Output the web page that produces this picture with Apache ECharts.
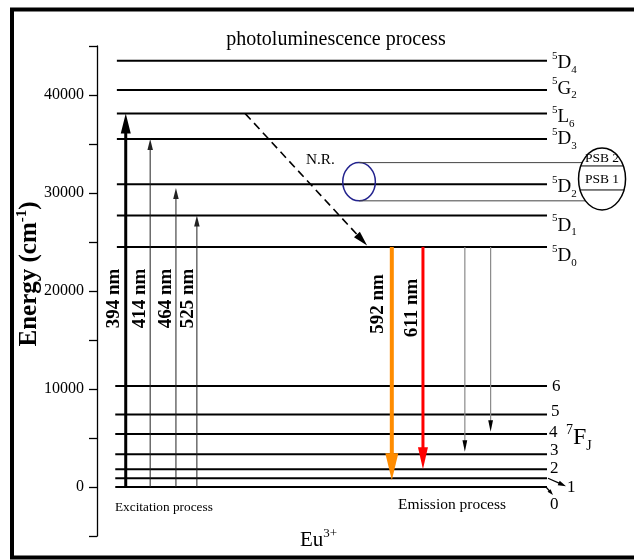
<!DOCTYPE html>
<html>
<head>
<meta charset="utf-8">
<script src="https://cdn.jsdelivr.net/npm/echarts@6/dist/echarts.min.js"></script>
<style>
  html, body { margin: 0; padding: 0; background: #fff; }
  #chart { width: 634px; height: 560px; }
</style>
</head>
<body>
<div id="chart"></div>
<script>
// Eu3+ energy levels, cm^-1
const upperTerms = ['D', 'G', 'L', 'D', 'D', 'D', 'D'];
const upperJ = ['4', '2', '6', '3', '2', '1', '0'];
const upperEnergy = [43500, 40500, 38100, 35500, 30900, 27700, 24500];

const groundJ = ['6', '5', '4', '3', '2', '1', '0'];
const groundEnergy = [10300, 7400, 5400, 3350, 1800, 900, 0];

// excitation out of 7F0
const excLabels = ['394 nm', '414 nm', '464 nm', '525 nm'];
const excTop = [38100, 35500, 30500, 27700];

// emission out of 5D0
const emLabels = ['592 nm', '611 nm'];
const emEnd = [700, 1800];
const weakEmEnd = [3600, 5650];

// non-radiative relaxation 5L6 -> 5D0
const nrEnergy = [38100, 24650];

// phonon side bands around 5D2
const psbBand = [29200, 33100];
const psbEllipse = [28270, 34590];
const psbDividers = [30310, 32760];
const psbLabels = ['PSB 2', 'PSB 1'];

const yTickLabels = [0, 10000, 20000, 30000, 40000];

// ---- layout (hidden x axis runs 0..100 across the plot) ----
const FONT = '"Liberation Serif", "Times New Roman", serif';
const layout = {
  upperStart: 3.7, lowerStart: 3.4, levelEnd: 83.8,
  upperLabelDy: [2.5, -1.5, 3, 0, 3, 10, 9],
  groundLabelPos: [[5, 0], [4, -3], [2, -2], [3, -4], [3, -1], [20, 9], [3, 18]],
  excX: [5.35, 9.9, 14.7, 18.6],
  excLabelDx: [-12, -10, -9.5, -9.2],
  excLabelE: 19230,
  emX: [54.9, 60.7],
  emLabelDx: [-14, -10.5],
  emLabelE: [18670, 18270],
  weakX: [68.5, 73.3],
  nrX: [27.6, 50.3],
  circleX: 48.8, circleRx: 16.3,
  ellipseX: 94.05, ellipseRx: 23.5
};

const emColors = ['#ff8c00', '#ff0000'];

function arrow(p0, p1, o) {
  const dx = p1[0] - p0[0], dy = p1[1] - p0[1];
  const len = Math.hypot(dx, dy);
  const ux = dx / len, uy = dy / len;
  const bx = p1[0] - ux * o.head, by = p1[1] - uy * o.head;
  const nx = -uy, ny = ux, hw = o.headW / 2;
  return {
    type: 'group',
    children: [
      { type: 'line', shape: { x1: p0[0], y1: p0[1], x2: bx + ux, y2: by + uy },
        style: { stroke: o.color, lineWidth: o.width, lineDash: o.dash || null } },
      { type: 'polygon', shape: { points: [[p1[0], p1[1]], [bx + nx * hw, by + ny * hw], [bx - nx * hw, by - ny * hw]] },
        style: { fill: o.headColor || o.color } }
    ]
  };
}

const termRich = {
  s: { fontSize: 11, fontFamily: FONT, fill: '#000', verticalAlign: 'top', lineHeight: 12 },
  m: { fontSize: 19, fontFamily: FONT, fill: '#000', lineHeight: 25 },
  b: { fontSize: 11, fontFamily: FONT, fill: '#000', verticalAlign: 'bottom', lineHeight: 12 }
};

const series = [];

// excited 5D / 5G / 5L manifold
series.push({
  type: 'custom', coordinateSystem: 'cartesian2d', silent: true, z: 2,
  data: upperEnergy.map((e, i) => [i, e]),
  renderItem(params, api) {
    const i = params.dataIndex, e = api.value(1);
    const a = api.coord([layout.upperStart, e]), b = api.coord([layout.levelEnd, e]);
    return { type: 'group', children: [
      { type: 'line', shape: { x1: a[0], y1: a[1], x2: b[0], y2: b[1] }, style: { stroke: '#000', lineWidth: 2 } },
      { type: 'text', x: b[0] + 5, y: b[1] + layout.upperLabelDy[i],
        style: { text: '{s|5}{m|' + upperTerms[i] + '}{b|' + upperJ[i] + '}', align: 'left', verticalAlign: 'middle', rich: termRich } }
    ] };
  }
});

// 7F_J ground multiplet
series.push({
  type: 'custom', coordinateSystem: 'cartesian2d', silent: true, z: 2,
  data: groundEnergy.map((e, i) => [i, e]),
  renderItem(params, api) {
    const i = params.dataIndex, e = api.value(1);
    const a = api.coord([layout.lowerStart, e]), b = api.coord([layout.levelEnd, e]);
    const pos = layout.groundLabelPos[i];
    const kids = [
      { type: 'line', shape: { x1: a[0], y1: a[1], x2: b[0], y2: b[1] }, style: { stroke: '#000', lineWidth: 2 } },
      { type: 'text', x: b[0] + pos[0], y: b[1] + pos[1],
        style: { text: groundJ[i], fontSize: 17, fontFamily: FONT, fill: '#000', align: 'left', verticalAlign: 'middle' } }
    ];
    if (groundJ[i] === '1') {
      kids.push(arrow([b[0] + 1, b[1]], [b[0] + 19, b[1] + 8], { color: '#000', width: 1.2, head: 8, headW: 5 }));
    }
    if (groundJ[i] === '0') {
      kids.push(arrow([b[0] - 1, b[1]], [b[0] + 6, b[1] + 8], { color: '#000', width: 1.2, head: 6, headW: 4 }));
    }
    if (groundJ[i] === '4') {
      kids.push({ type: 'text', x: b[0] + 19, y: b[1] + 4,
        style: { text: '{s|7}{m|F}{b|J}', align: 'left', verticalAlign: 'middle', rich: {
          s: { fontSize: 14, fontFamily: FONT, fill: '#000', verticalAlign: 'top', lineHeight: 14 },
          m: { fontSize: 24, fontFamily: FONT, fill: '#000', lineHeight: 30 },
          b: { fontSize: 14, fontFamily: FONT, fill: '#000', verticalAlign: 'bottom', lineHeight: 14 }
        } } });
    }
    return { type: 'group', children: kids };
  }
});

// phonon side band markers
series.push({
  type: 'custom', coordinateSystem: 'cartesian2d', silent: true, z: 3,
  data: [[0, psbBand[0]]],
  renderItem(params, api) {
    const lo = api.coord([layout.circleX, psbBand[0]]);
    const hi = api.coord([layout.circleX, psbBand[1]]);
    const eTop = api.coord([layout.ellipseX, psbEllipse[1]]);
    const eBot = api.coord([layout.ellipseX, psbEllipse[0]]);
    const ecx = eTop[0], ecy = (eTop[1] + eBot[1]) / 2, ery = (eBot[1] - eTop[1]) / 2, erx = layout.ellipseRx;
    const edgeX = (y, side) => ecx + side * erx * Math.sqrt(Math.max(0, 1 - Math.pow((y - ecy) / ery, 2)));
    const kids = [
      { type: 'ellipse', shape: { cx: lo[0], cy: (lo[1] + hi[1]) / 2, rx: layout.circleRx, ry: (lo[1] - hi[1]) / 2 },
        style: { fill: 'none', stroke: '#23238e', lineWidth: 1.5 } },
      { type: 'line', shape: { x1: hi[0], y1: hi[1], x2: edgeX(hi[1], -1), y2: hi[1] }, style: { stroke: '#444', lineWidth: 1 } },
      { type: 'line', shape: { x1: lo[0], y1: lo[1], x2: edgeX(lo[1], -1), y2: lo[1] }, style: { stroke: '#444', lineWidth: 1 } },
      { type: 'ellipse', shape: { cx: ecx, cy: ecy, rx: erx, ry: ery }, style: { fill: 'none', stroke: '#000', lineWidth: 1.5 } }
    ];
    const dividerY = psbDividers.map(e => api.coord([layout.ellipseX, e])[1]);
    dividerY.forEach(y => kids.push({ type: 'line', shape: { x1: edgeX(y, -1), y1: y, x2: edgeX(y, 1), y2: y }, style: { stroke: '#000', lineWidth: 1 } }));
    const bands = [[eTop[1], dividerY[1]], [dividerY[1], dividerY[0]]];
    psbLabels.forEach((t, k) => kids.push({ type: 'text', x: ecx, y: (bands[k][0] + bands[k][1]) / 2 + 1,
      style: { text: t, fontSize: 13.5, fontFamily: FONT, fill: '#000', align: 'center', verticalAlign: 'middle' } }));
    return { type: 'group', children: kids };
  }
});

// excitation arrows
series.push({
  type: 'custom', coordinateSystem: 'cartesian2d', silent: true, z: 4,
  data: excTop.map((e, i) => [i, e]),
  renderItem(params, api) {
    const i = params.dataIndex;
    const x = layout.excX[i];
    const p0 = api.coord([x, groundEnergy[groundEnergy.length - 1]]), p1 = api.coord([x, api.value(1)]);
    const strong = i === 0;
    const lab = api.coord([x, layout.excLabelE]);
    return { type: 'group', children: [
      arrow(p0, p1, strong ? { color: '#000', width: 3, head: 20, headW: 10 } : { color: '#222', width: 1, head: 11, headW: 5.5 }),
      { type: 'text', x: lab[0] + layout.excLabelDx[i], y: lab[1], rotation: Math.PI / 2,
        style: { text: excLabels[i], fontSize: 19, fontWeight: 'bold', fontFamily: FONT, fill: '#000', align: 'center', verticalAlign: 'middle' } }
    ] };
  }
});

// emission arrows
series.push({
  type: 'custom', coordinateSystem: 'cartesian2d', silent: true, z: 4,
  data: emEnd.map((e, i) => [i, e]),
  renderItem(params, api) {
    const i = params.dataIndex;
    const x = layout.emX[i];
    const p0 = api.coord([x, upperEnergy[upperEnergy.length - 1]]), p1 = api.coord([x, api.value(1)]);
    const lab = api.coord([x, layout.emLabelE[i]]);
    const st = i === 0 ? { color: emColors[0], width: 4, head: 27, headW: 13 } : { color: emColors[1], width: 3, head: 22, headW: 10 };
    return { type: 'group', children: [
      arrow(p0, p1, st),
      { type: 'text', x: lab[0] + layout.emLabelDx[i], y: lab[1], rotation: Math.PI / 2,
        style: { text: emLabels[i], fontSize: 19, fontWeight: 'bold', fontFamily: FONT, fill: '#000', align: 'center', verticalAlign: 'middle' } }
    ] };
  }
});

// weaker 5D0 -> 7F3 / 7F4 transitions
series.push({
  type: 'custom', coordinateSystem: 'cartesian2d', silent: true, z: 4,
  data: weakEmEnd.map((e, i) => [i, e]),
  renderItem(params, api) {
    const x = layout.weakX[params.dataIndex];
    const p0 = api.coord([x, upperEnergy[upperEnergy.length - 1]]), p1 = api.coord([x, api.value(1)]);
    return arrow(p0, p1, { color: '#8a8a8a', width: 1.2, head: 11.5, headW: 4.8, headColor: '#000' });
  }
});

// non-radiative relaxation
series.push({
  type: 'custom', coordinateSystem: 'cartesian2d', silent: true, z: 4,
  data: [[0, nrEnergy[0]]],
  renderItem(params, api) {
    const p0 = api.coord([layout.nrX[0], nrEnergy[0]]), p1 = api.coord([layout.nrX[1], nrEnergy[1]]);
    const t = 0.35;
    return { type: 'group', children: [
      arrow(p0, p1, { color: '#000', width: 1.6, head: 15, headW: 8, dash: [8, 5] }),
      { type: 'text', x: p0[0] + (p1[0] - p0[0]) * t + 18, y: p0[1] + (p1[1] - p0[1]) * t,
        style: { text: 'N.R.', fontSize: 15.3, fontFamily: FONT, fill: '#000', align: 'left', verticalAlign: 'middle' } }
    ] };
  }
});

const option = {
  backgroundColor: '#fff',
  animation: false,
  grid: { left: 97, right: 0, top: 46, bottom: 24, containLabel: false },
  xAxis: { type: 'value', min: 0, max: 100, show: false },
  yAxis: {
    type: 'value', min: -5000, max: 45000, interval: 5000,
    axisLine: { show: true, lineStyle: { color: '#000', width: 1.3 } },
    axisTick: { show: true, inside: false, length: 8, lineStyle: { color: '#000', width: 1.3 } },
    axisLabel: { margin: 13, fontSize: 16, fontFamily: FONT, color: '#000',
      formatter: v => (yTickLabels.indexOf(v) >= 0 ? String(v) : '') },
    splitLine: { show: false }
  },
  graphic: [
    { type: 'rect', z: -1, shape: { x: 12, y: 9.5, width: 640, height: 548 }, style: { fill: 'none', stroke: '#000', lineWidth: 4 } },
    { type: 'text', x: 30, y: 274, rotation: Math.PI / 2, style: {
      text: '{a|Energy (cm}{s|-1}{a|)}', align: 'center', verticalAlign: 'middle', rich: {
        a: { fontSize: 25, fontWeight: 'bold', fontFamily: FONT, fill: '#000', lineHeight: 30 },
        s: { fontSize: 15, fontWeight: 'bold', fontFamily: FONT, fill: '#000', verticalAlign: 'top', lineHeight: 15 }
      } } },
    { type: 'text', x: 336, y: 40, style: { text: 'photoluminescence process', fontSize: 20, fontFamily: FONT, fill: '#000', align: 'center', verticalAlign: 'middle' } },
    { type: 'text', x: 115, y: 508, style: { text: 'Excitation process', fontSize: 13.3, fontFamily: FONT, fill: '#000', align: 'left', verticalAlign: 'middle' } },
    { type: 'text', x: 398, y: 505, style: { text: 'Emission process', fontSize: 15.5, fontFamily: FONT, fill: '#000', align: 'left', verticalAlign: 'middle' } },
    { type: 'text', x: 300, y: 540, style: { text: '{m|Eu}{s|3+}', align: 'left', verticalAlign: 'middle', rich: {
      m: { fontSize: 21, fontFamily: FONT, fill: '#000', lineHeight: 26 },
      s: { fontSize: 13, fontFamily: FONT, fill: '#000', verticalAlign: 'top', lineHeight: 13 }
    } } }
  ],
  series
};

const chart = echarts.init(document.getElementById('chart'));
chart.setOption(option);
</script>
</body>
</html>
